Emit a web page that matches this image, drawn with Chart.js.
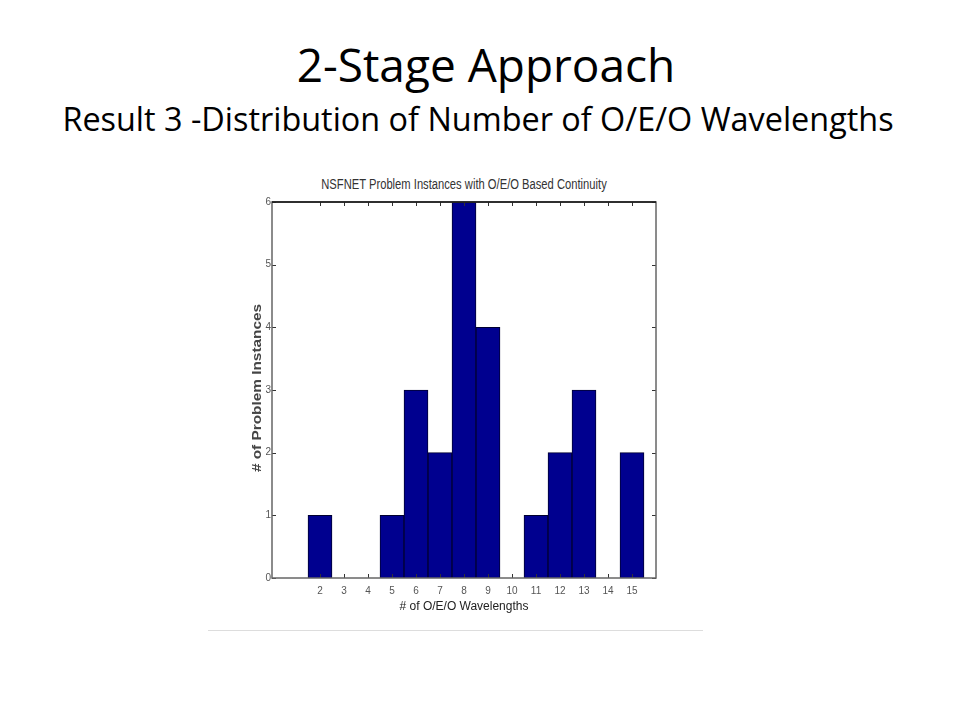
<!DOCTYPE html>
<html>
<head>
<meta charset="UTF-8">
<title>2-Stage Approach</title>
<script src="https://cdn.jsdelivr.net/npm/chart.js"></script>
<style>
  body { margin: 0; background: #fff; width: 960px; height: 720px; position: relative; overflow: hidden; }
  .slideTitle { position: absolute; width: 960px; text-align: center; font-family: "Open Sans", sans-serif; color: #000; white-space: nowrap; }
  #t1 { left: 6px; top: 34px; font-size: 46px; line-height: 60px; }
  #t2 { left: -2px; top: 96px; font-size: 32.4px; line-height: 44px; }
  #chartTitle { position: absolute; left: 264px; width: 400px; top: 176px; text-align: center; font-family: "Liberation Sans", Arial, sans-serif; font-size: 14px; color: #333; transform: scaleX(0.8); white-space: nowrap; }
  #yTitle { position: absolute; left: 157px; top: 380px; width: 200px; text-align: center; font-family: "Liberation Sans", Arial, sans-serif; font-size: 12px; line-height: 16px; font-weight: bold; color: #444; transform: rotate(-90deg) scaleX(1.28); white-space: nowrap; }
  #frame { position: absolute; left: 208px; top: 630px; width: 495px; height: 1px; background: #ddd; }
  #box { position: absolute; left: 240px; top: 195px; width: 440px; height: 430px; }
</style>
</head>
<body>
<div class="slideTitle" id="t1">2-Stage Approach</div>
<div class="slideTitle" id="t2">Result 3 -Distribution of Number of O/E/O Wavelengths</div>
<div id="chartTitle">NSFNET Problem Instances with O/E/O Based Continuity</div>
<div id="box"><canvas id="histChart"></canvas></div>
<div id="yTitle"># of Problem Instances</div>
<div id="frame"></div>

<script>
    // number of O/E/O wavelengths -> number of problem instances
    const wavelengths = [2, 5, 6, 7, 8, 9, 11, 12, 13, 15];
    const instances = [1, 1, 3, 2, 6, 4, 1, 2, 3, 2];
    const xTicks = [2, 3, 4, 5, 6, 7, 8, 9, 10, 11, 12, 13, 14, 15];
    const yTicks = [0, 1, 2, 3, 4, 5, 6];

    const font = "'Liberation Sans', Arial, sans-serif";

    // inward tick marks on all four sides, like the matlab figure
    const innerTicks = {
        id: 'innerTicks',
        afterDatasetsDraw(chart) {
            const c = chart.ctx, a = chart.chartArea;
            const x = chart.scales.x, y = chart.scales.y;
            c.save();
            c.strokeStyle = '#333';
            c.lineWidth = 1;
            c.beginPath();
            xTicks.forEach(v => {
                const px = Math.round(x.getPixelForValue(v)) + 0.5;
                c.moveTo(px, a.bottom); c.lineTo(px, a.bottom - 4);
                c.moveTo(px, a.top); c.lineTo(px, a.top + 4);
            });
            yTicks.forEach(v => {
                const py = Math.round(y.getPixelForValue(v)) + 0.5;
                c.moveTo(a.left, py); c.lineTo(a.left + 4, py);
                c.moveTo(a.right, py); c.lineTo(a.right - 4, py);
            });
            c.stroke();
            c.lineWidth = 1.5;
            c.strokeStyle = '#666';
            c.strokeRect(a.left, a.top, a.right - a.left, a.bottom - a.top);
            c.strokeStyle = '#111';
            c.beginPath();
            c.moveTo(a.left, a.top); c.lineTo(a.right, a.top);
            c.stroke();
            c.restore();
        }
    };

    new Chart(document.getElementById('histChart'), {
        type: 'bar',
        data: {
            datasets: [{
                data: wavelengths.map((w, i) => ({ x: w, y: instances[i] })),
                backgroundColor: '#00008f',
                borderColor: '#000030',
                borderWidth: 1,
                barPercentage: 1,
                categoryPercentage: 1
            }]
        },
        options: {
            responsive: true,
            maintainAspectRatio: false,
            animation: false,
            layout: { padding: { left: 0, right: 24, top: 7, bottom: 0 } },
            plugins: {
                legend: { display: false },
                tooltip: { enabled: false }
            },
            scales: {
                x: {
                    type: 'linear',
                    min: 0,
                    max: 16,
                    offset: false,
                    afterBuildTicks: s => { s.ticks = xTicks.map(v => ({ value: v })); },
                    afterFit: s => { s.height = 47; },
                    grid: { display: false, drawTicks: false },
                    border: { display: false },
                    ticks: { color: '#555', font: { family: font, size: 10 }, padding: 7, maxRotation: 0, autoSkip: false },
                    title: { display: true, text: '# of O/E/O Wavelengths', color: '#222', font: { family: font, size: 12 }, padding: { top: 0, bottom: 11 } }
                },
                y: {
                    min: 0,
                    max: 6,
                    afterBuildTicks: s => { s.ticks = yTicks.map(v => ({ value: v })); },
                    afterFit: s => { s.width = 32; },
                    grid: { display: false, drawTicks: false },
                    border: { display: false },
                    ticks: { color: '#555', font: { family: font, size: 10 }, padding: 1 }
                }
            }
        },
        plugins: [innerTicks]
    });
</script>
</body>
</html>
